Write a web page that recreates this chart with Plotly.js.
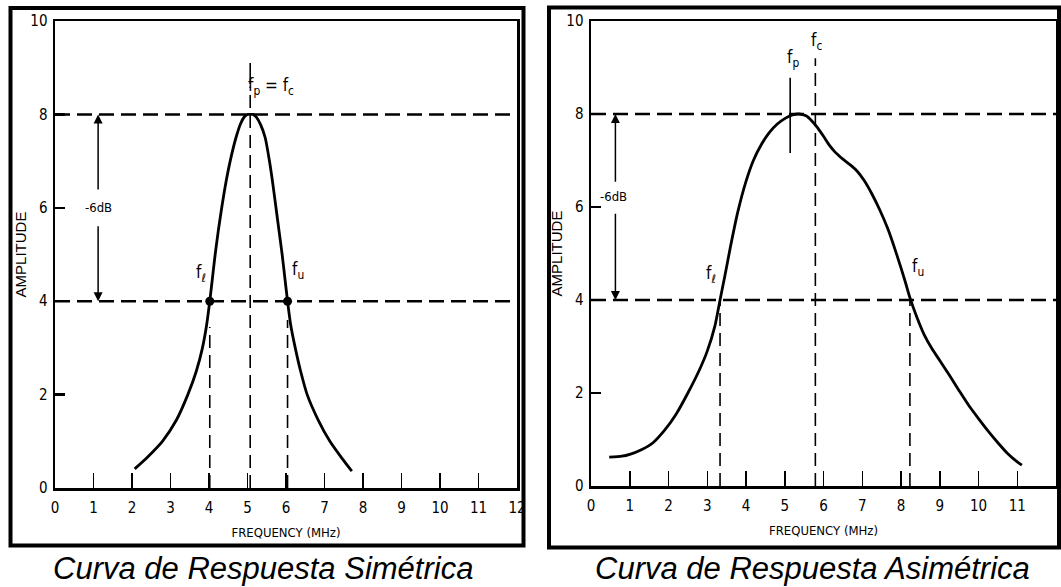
<!DOCTYPE html>
<html>
<head>
<meta charset="utf-8">
<script src="https://cdn.plot.ly/plotly-3.0.1.min.js"></script>
<style>
  html, body { margin: 0; padding: 0; background: #ffffff; }
  #chart { width: 1061px; height: 587px; }
</style>
</head>
<body>
<div id="chart"></div>
<script>
// ---------- data ----------
const xTickVals = [0, 1, 2, 3, 4, 5, 6, 7, 8, 9, 10, 11, 12];
const yTickVals = [0, 2, 4, 6, 8, 10];

// symmetric response curve (left)
const symFreq = [2.07, 2.4, 2.79, 3.15, 3.45, 3.67, 3.83, 3.94, 4.02, 4.09, 4.16, 4.24, 4.33, 4.43, 4.55, 4.7, 4.82, 4.92, 5.0, 5.07, 5.14, 5.23, 5.34, 5.46, 5.57, 5.66, 5.74, 5.82, 5.9, 5.97, 6.04, 6.12, 6.24, 6.38, 6.55, 6.84, 7.14, 7.45, 7.71];
const symAmp  = [0.41, 0.66, 1.0, 1.45, 2.0, 2.5, 3.0, 3.5, 4.0, 4.5, 5.0, 5.5, 6.0, 6.5, 7.0, 7.5, 7.8, 7.95, 8.0, 8.0, 8.0, 7.94, 7.78, 7.5, 7.0, 6.5, 6.0, 5.5, 5.0, 4.5, 4.0, 3.5, 3.0, 2.5, 2.0, 1.45, 1.0, 0.64, 0.36];
const symPointFreq = [4.02, 6.04];
const symPointAmp  = [4, 4];

// asymmetric response curve (right)
const asymFreq = [0.47, 0.8, 1.0, 1.3, 1.6, 1.9, 2.2, 2.5, 2.8, 3.0, 3.2, 3.33, 3.45, 3.6, 3.79, 4.0, 4.19, 4.4, 4.6, 4.8, 5.0, 5.2, 5.37, 5.55, 5.7, 5.85, 6.0, 6.15, 6.3, 6.5, 6.7, 6.87, 7.05, 7.25, 7.45, 7.66, 7.9, 8.1, 8.23, 8.4, 8.6, 8.8, 9.0, 9.25, 9.5, 9.75, 10.0, 10.25, 10.5, 10.75, 11.0, 11.12];
const asymAmp  = [0.62, 0.64, 0.68, 0.78, 0.93, 1.2, 1.55, 2.0, 2.5, 2.9, 3.45, 4.0, 4.5, 5.15, 5.9, 6.55, 7.0, 7.35, 7.6, 7.78, 7.9, 7.98, 8.0, 7.96, 7.85, 7.7, 7.52, 7.33, 7.18, 7.03, 6.9, 6.77, 6.57, 6.28, 5.94, 5.53, 4.95, 4.42, 4.05, 3.65, 3.25, 2.95, 2.7, 2.38, 2.05, 1.73, 1.45, 1.18, 0.93, 0.7, 0.52, 0.45];

// reference levels and frequencies
const peakLevel = 8;
const halfLevel = 4;
const symF = { l: 4.02, c: 5.07, u: 6.04 };
const asymF = { l: 3.33, p: 5.14, c: 5.79, u: 8.23 };
const symArrowX = 1.12;
const asymArrowX = 0.63;

// ---------- texts ----------
const xTitle = 'FREQUENCY (MHz)';
const yTitle = 'AMPLITUDE';
const captionLeft = 'Curva de Respuesta Simétrica';
const captionRight = 'Curva de Respuesta Asimétrica';

// ---------- helpers ----------
const W = 1061, H = 587;
const px = v => v / W;
const py = v => 1 - v / H;
const condensed = 'Liberation Sans Narrow, DejaVu Sans Condensed, Arial Narrow, sans-serif';

function xAxisDef(domain, anchor) {
  return {
    domain: domain, anchor: anchor, range: [0, 12],
    tickmode: 'array', tickvals: xTickVals, ticktext: xTickVals.map(String),
    ticks: 'inside', ticklen: 15, tickwidth: 1.5, tickcolor: '#000',
    showline: true, linewidth: 2.5, linecolor: '#000', mirror: true,
    showgrid: false, zeroline: false,
    tickfont: { family: condensed, size: 15, color: '#000' },
    ticklabelstandoff: 4,
    title: { text: xTitle, font: { family: condensed, size: 13, color: '#000' }, standoff: 13 },
    fixedrange: true
  };
}
function yAxisDef(domain, anchor) {
  return {
    domain: domain, anchor: anchor, range: [0, 10],
    tickmode: 'array', tickvals: yTickVals, ticktext: yTickVals.map(String),
    ticks: 'inside', ticklen: 10, tickwidth: 2.5, tickcolor: '#000',
    showline: true, linewidth: 2.5, linecolor: '#000', mirror: true,
    showgrid: false, zeroline: false,
    tickfont: { family: condensed, size: 15, color: '#000' },
    ticklabelstandoff: 2,
    title: { text: yTitle, font: { family: 'Liberation Sans, Arial, sans-serif', size: 15, color: '#000' }, standoff: 0 },
    fixedrange: true
  };
}

const traces = [
  { x: symFreq, y: symAmp, xaxis: 'x', yaxis: 'y', mode: 'lines',
    line: { color: '#000', width: 2.8, shape: 'spline', smoothing: 0.6 }, hoverinfo: 'skip' },
  { x: symPointFreq, y: symPointAmp, xaxis: 'x', yaxis: 'y', mode: 'markers',
    marker: { color: '#000', size: 9 }, hoverinfo: 'skip' },
  { x: asymFreq, y: asymAmp, xaxis: 'x2', yaxis: 'y2', mode: 'lines',
    line: { color: '#000', width: 2.8, shape: 'spline', smoothing: 0.6 }, hoverinfo: 'skip' }
];

function hDash(xr, yr, level) {
  return { type: 'line', xref: xr, yref: yr, x0: 0, x1: 12, y0: level, y1: level,
    line: { color: '#000', width: 2.5, dash: '15px,7px' }, layer: 'below' };
}
function vDash(xr, yr, f, y0, y1) {
  return { type: 'line', xref: xr, yref: yr, x0: f, x1: f, y0: y0, y1: y1,
    line: { color: '#000', width: 1.6, dash: '13px,7px' }, layer: 'below' };
}
function vSolid(xr, yr, f, y0, y1) {
  return { type: 'line', xref: xr, yref: yr, x0: f, x1: f, y0: y0, y1: y1,
    line: { color: '#000', width: 1.6 }, layer: 'below' };
}
function frame(x0, y0, x1, y1) {
  return { type: 'rect', xref: 'paper', yref: 'paper', x0: px(x0), x1: px(x1), y0: py(y0), y1: py(y1),
    line: { color: '#000', width: 4 }, fillcolor: 'rgba(0,0,0,0)' };
}

const shapes = [
  frame(10.5, 8, 523.5, 545.5),
  frame(549, 7.5, 1059, 547.5),
  hDash('x', 'y', peakLevel), hDash('x', 'y', halfLevel),
  vDash('x', 'y', symF.l, 0, 3.45), vDash('x', 'y', symF.u, 0, 3.6),
  vDash('x', 'y', symF.c, 0, 8.6), vSolid('x', 'y', symF.c, 8.65, 9.1),
  hDash('x2', 'y2', peakLevel), hDash('x2', 'y2', halfLevel),
  vDash('x2', 'y2', asymF.l, 0, halfLevel), vDash('x2', 'y2', asymF.u, 0, halfLevel),
  vDash('x2', 'y2', asymF.c, 0, 9.2), vSolid('x2', 'y2', asymF.p, 7.16, 8.78)
];

const lblFont = { family: condensed, size: 17, color: '#000' };
function label(xr, yr, x, y, text, size) {
  return { xref: xr, yref: yr, x: x, y: y, text: text, showarrow: false, xanchor: 'center', yanchor: 'middle',
    font: Object.assign({}, lblFont, size ? { size: size } : {}) };
}
function arrow(xr, yr, x, yHead, yTail) {
  return { xref: xr, yref: yr, axref: xr, ayref: yr, x: x, y: yHead, ax: x, ay: yTail,
    text: ' ', showarrow: true, arrowhead: 2, arrowsize: 1.2, arrowwidth: 1.5, arrowcolor: '#000', standoff: 0,
    font: { size: 1 } };
}

const capFont = { family: 'Liberation Sans, Arial, sans-serif', size: 31, color: '#000', style: 'italic' };

const annotations = [
  // left panel
  label('x', 'y', 3.78, 4.6, 'f<sub>ℓ</sub>'),
  label('x', 'y', 6.3, 4.65, 'f<sub>u</sub>'),
  label('x', 'y', 5.62, 8.6, 'f<sub>p</sub> = f<sub>c</sub>'),
  arrow('x', 'y', symArrowX, peakLevel, 6.35),
  arrow('x', 'y', symArrowX, halfLevel, 5.65),
  label('x', 'y', symArrowX, 6.0, '-6dB', 13),
  // right panel
  label('x2', 'y2', 3.1, 4.55, 'f<sub>ℓ</sub>'),
  label('x2', 'y2', 8.45, 4.7, 'f<sub>u</sub>'),
  label('x2', 'y2', 5.2, 9.2, 'f<sub>p</sub>'),
  label('x2', 'y2', 5.83, 9.55, 'f<sub>c</sub>'),
  arrow('x2', 'y2', asymArrowX, peakLevel, 6.5),
  arrow('x2', 'y2', asymArrowX, halfLevel, 5.9),
  label('x2', 'y2', asymArrowX - 0.05, 6.22, '-6dB', 13),
  // captions
  { xref: 'paper', yref: 'paper', x: px(263), y: py(568), xanchor: 'center', yanchor: 'middle',
    text: captionLeft, showarrow: false, font: capFont },
  { xref: 'paper', yref: 'paper', x: px(812), y: py(568), xanchor: 'center', yanchor: 'middle',
    text: captionRight, showarrow: false, font: capFont }
];

const layout = {
  width: W, height: H,
  margin: { l: 0, r: 0, t: 0, b: 0 },
  paper_bgcolor: '#fff', plot_bgcolor: '#fff',
  showlegend: false,
  xaxis: xAxisDef([px(55), px(517)], 'y'),
  yaxis: yAxisDef([py(488), py(21)], 'x'),
  xaxis2: xAxisDef([px(591), px(1056)], 'y2'),
  yaxis2: yAxisDef([py(486), py(21)], 'x2'),
  shapes: shapes,
  annotations: annotations
};

Plotly.newPlot('chart', traces, layout, { staticPlot: true, displayModeBar: false });
</script>
</body>
</html>
